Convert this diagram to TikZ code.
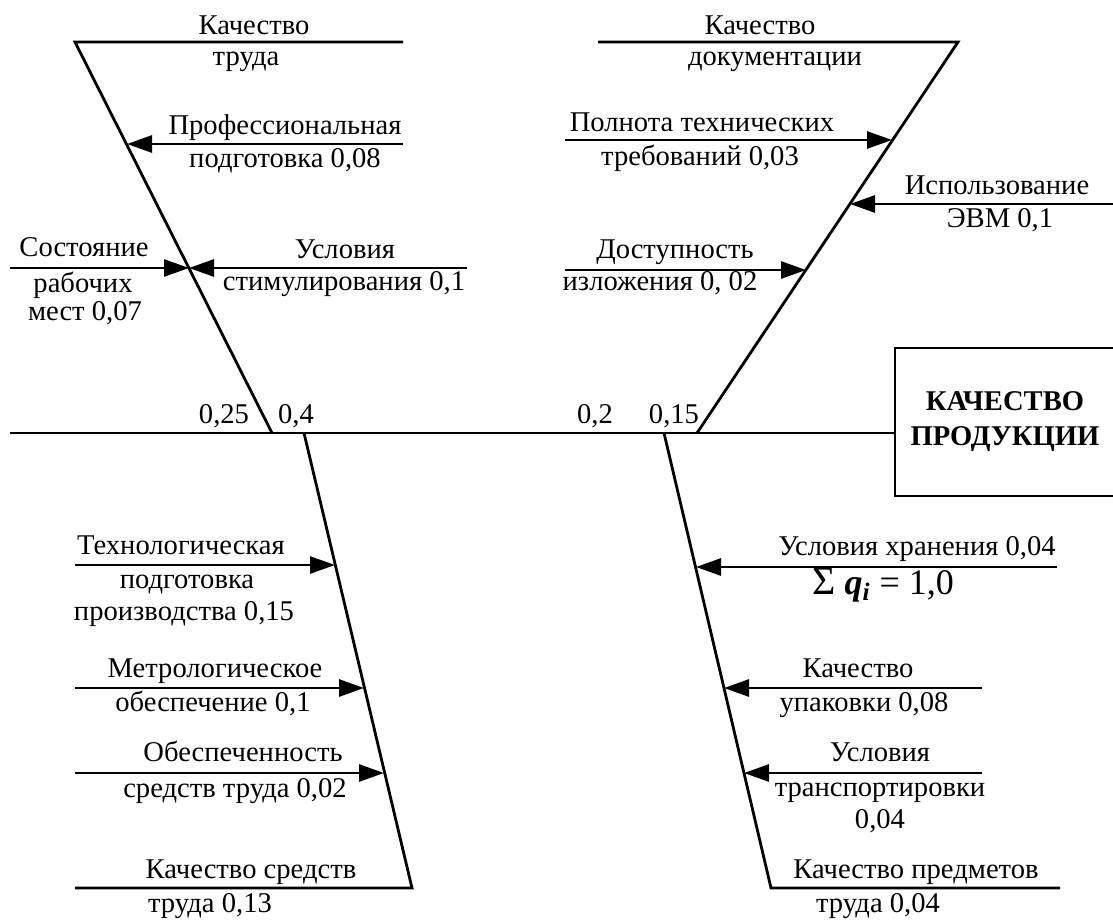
\documentclass[tikz,border=0pt]{standalone}
\usepackage{fontspec}
\setmainfont{Liberation Serif}
\usetikzlibrary{arrows.meta,positioning}
\tikzset{font=\fontsize{14.3}{16}\selectfont}
\tikzset{bone/.style={line width=1.4pt},
  cause/.style={line width=1.4pt,-{Triangle[length=12.5pt,width=8.5pt]}},
  lbl/.style={inner sep=0pt,text height=0.68em,text depth=0.1em,yshift=-1pt}}

\begin{document}
\begin{tikzpicture}[x=0.5pt,y=-0.5pt]
  \useasboundingbox (0,0) rectangle (1113,920);
  % result box and spine
  \node[draw,line width=1.4pt,minimum width=110pt,minimum height=74pt,align=center,
        font=\fontsize{14.3}{17.5}\selectfont\bfseries] (res) at (1005,422) {КАЧЕСТВО\\ПРОДУКЦИИ};
  \coordinate (tail) at (10,433);
  \draw[bone] (tail) -- (res.west |- tail);
  % bones
  \coordinate (ul-top) at (75,42);   \coordinate (ul-foot) at (272,433); \coordinate (ul-end) at (403,42);
  \coordinate (ll-top) at (304,433); \coordinate (ll-foot) at (412,888); \coordinate (ll-end) at (75,888);
  \coordinate (ur-top) at (958,42);  \coordinate (ur-foot) at (697,433); \coordinate (ur-end) at (598,42);
  \coordinate (lr-top) at (664,433); \coordinate (lr-foot) at (771,888); \coordinate (lr-end) at (1060,888);
  \draw[bone] (ul-end) -- (ul-top) -- (ul-foot);
  \draw[bone] (ll-top) -- (ll-foot) -- (ll-end);
  \draw[bone] (ur-end) -- (ur-top) -- (ur-foot);
  \draw[bone] (lr-top) -- (lr-foot) -- (lr-end);
  % upper left
  \node[lbl] (trud1) at (254,27) {Качество};
  \node[lbl] (trud2) at (246,58) {труда};
  \coordinate (prof-s) at (403,144); \coordinate (prof-e) at (127,144);
  \draw[cause] (prof-s) -- (prof-e);
  \node[lbl] (prof1) at (285,127) {Профессиональная};
  \node[lbl] (prof2) at (285,160) {подготовка 0,08};
  \coordinate (stim-s) at (467,268); \coordinate (stim-e) at (189,268);
  \draw[cause] (stim-s) -- (stim-e);
  \node[lbl] (stim1) at (345,251) {Условия};
  \node[lbl] (stim2) at (344,283) {стимулирования 0,1};
  \coordinate (mest-e) at (189,268);
  \draw[cause] (tail |- mest-e) -- (mest-e);
  \node[lbl] (mest1) at (84,249) {Состояние};
  \node[lbl] (mest2) at (83,285) {рабочих};
  \node[lbl] (mest3) at (85,313) {мест 0,07};
  % upper right
  \node[lbl] (doc1) at (760,27) {Качество};
  \node[lbl] (doc2) at (775,58) {документации};
  \coordinate (poln-s) at (565,140); \coordinate (poln-e) at (892,140);
  \draw[cause] (poln-s) -- (poln-e);
  \node[lbl] (poln1) at (702,124) {Полнота технических};
  \node[lbl] (poln2) at (700,158) {требований 0,03};
  \coordinate (evm-s) at (1113,204); \coordinate (evm-e) at (850,204);
  \draw[cause] (evm-s) -- (evm-e);
  \node[lbl] (evm1) at (997,187) {Использование};
  \node[lbl] (evm2) at (1000,220) {ЭВМ 0,1};
  \coordinate (dost-s) at (565,270); \coordinate (dost-e) at (806,270);
  \draw[cause] (dost-s) -- (dost-e);
  \node[lbl] (dost1) at (675,251) {Доступность};
  \node[lbl] (dost2) at (660,283) {изложения 0, 02};
  % weights on the spine
  \node[lbl] (w1) at (224,416) {0,25};
  \node[lbl] (w2) at (296,416) {0,4};
  \node[lbl] (w3) at (595,416) {0,2};
  \node[lbl] (w4) at (674,416) {0,15};
  % lower left
  \coordinate (tech-s) at (75,565); \coordinate (tech-e) at (335,565);
  \draw[cause] (tech-s) -- (tech-e);
  \node[lbl] (tech1) at (181,547) {Технологическая};
  \node[lbl] (tech2) at (187,581) {подготовка};
  \node[lbl] (tech3) at (184,613) {производства 0,15};
  \coordinate (metr-s) at (75,688); \coordinate (metr-e) at (364,688);
  \draw[cause] (metr-s) -- (metr-e);
  \node[lbl] (metr1) at (215,670) {Метрологическое};
  \node[lbl] (metr2) at (213,704) {обеспечение 0,1};
  \coordinate (obes-s) at (75,773); \coordinate (obes-e) at (384,773);
  \draw[cause] (obes-s) -- (obes-e);
  \node[lbl] (obes1) at (243,754) {Обеспеченность};
  \node[lbl] (obes2) at (235,790) {средств труда 0,02};
  \node[lbl] (sred1) at (251,871) {Качество средств};
  \node[lbl] (sred2) at (210,905) {труда 0,13};
  % lower right
  \coordinate (hran-s) at (1057,567); \coordinate (hran-e) at (696,567);
  \draw[cause] (hran-s) -- (hran-e);
  \node[lbl] (hran) at (917,548) {Условия хранения 0,04};
  \node[lbl,font=\fontsize{18}{20}\selectfont] (sum) at (883,587) {{\fontsize{20}{20}\selectfont Σ} \textbf{\textit{q\textsubscript{i}}} = 1,0};
  \coordinate (upak-s) at (982,688); \coordinate (upak-e) at (724,688);
  \draw[cause] (upak-s) -- (upak-e);
  \node[lbl] (upak1) at (858,670) {Качество};
  \node[lbl] (upak2) at (864,704) {упаковки 0,08};
  \coordinate (tran-s) at (982,773); \coordinate (tran-e) at (744,773);
  \draw[cause] (tran-s) -- (tran-e);
  \node[lbl] (tran1) at (880,754) {Условия};
  \node[lbl] (tran2) at (880,789) {транспортировки};
  \node[lbl] (tran3) at (880,821) {0,04};
  \node[lbl] (pred1) at (916,871) {Качество предметов};
  \node[lbl] (pred2) at (878,905) {труда 0,04};
\end{tikzpicture}
\end{document}
